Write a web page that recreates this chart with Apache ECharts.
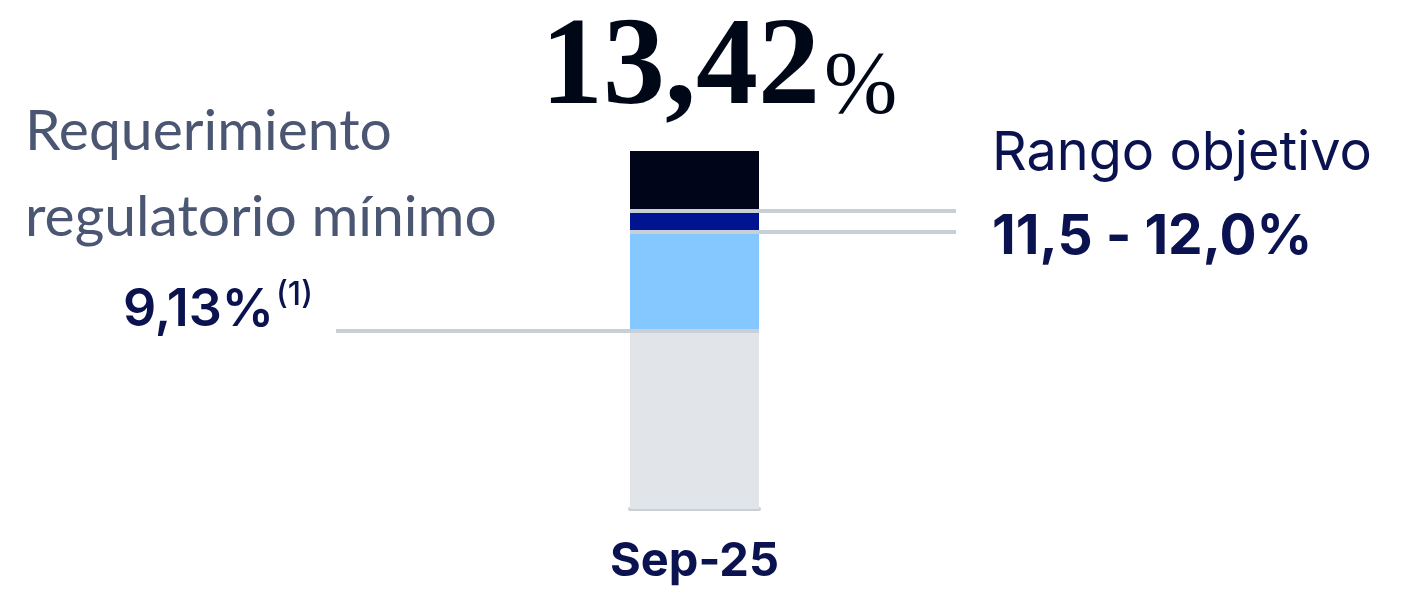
<!DOCTYPE html>
<html>
<head>
<meta charset="utf-8">
<script src="https://cdn.jsdelivr.net/npm/echarts@6/dist/echarts.min.js"></script>
<style>
  html, body { margin: 0; padding: 0; background: #fff; }
  #chart { width: 1424px; height: 613px; }
</style>
</head>
<body>
<div id="chart"></div>
<script>
// datos
const categories = ['Sep-25']
const minimoRegulatorio = [9.13]   // requerimiento regulatorio minimo
const rangoBajo = [11.5]           // rango objetivo, inferior
const rangoAlto = [12.0]           // rango objetivo, superior
const ratioCET1 = [13.42]          // ratio actual

const labelTotal = '13,42'
const labelMinimo = '9,13%'
const labelRango = '11,5 - 12,0%'

const navy = '#0b1250'
const guide = '#c8cfd7'

const diff = (a, b) => a.map((v, i) => +(v - b[i]).toFixed(4))

const chart = echarts.init(document.getElementById('chart'), null, { renderer: 'canvas' })

const option = {
  animation: false,
  backgroundColor: '#fff',
  grid: { left: 630, right: 665, top: 151, bottom: 104 },
  title: [
    {
      text: '{n|' + labelTotal + '}{p|%}',
      left: 541, top: 9, padding: 0,
      textStyle: {
        rich: {
          n: { fontFamily: 'Liberation Serif', fontWeight: 'bold', fontSize: 124, lineHeight: 124, color: '#000818' },
          p: { fontFamily: 'Liberation Serif', fontWeight: 'normal', fontSize: 88, lineHeight: 100, verticalAlign: 'bottom', color: '#000818', padding: [0, 0, 0, 4] }
        }
      }
    },
    {
      text: 'Requerimiento\nregulatorio mínimo',
      left: 25, top: 89, padding: 0,
      textStyle: { fontFamily: 'Lato', fontWeight: 'normal', fontSize: 57, lineHeight: 86, color: '#4a5672' }
    },
    {
      text: '{v|' + labelMinimo + '}{s|(1)}',
      left: 123, top: 279, padding: 0,
      textStyle: {
        rich: {
          v: { fontFamily: 'Inter', fontWeight: 600, fontSize: 52, lineHeight: 62, color: navy },
          s: { fontFamily: 'Inter', fontWeight: 500, fontSize: 32, lineHeight: 38, verticalAlign: 'top', color: navy, padding: [0, 0, 0, 2] }
        }
      }
    },
    {
      text: 'Rango objetivo',
      left: 992, top: 124, padding: 0,
      textStyle: { fontFamily: 'Inter', fontWeight: 'normal', fontSize: 54, lineHeight: 60, color: navy }
    },
    {
      text: labelRango,
      left: 992, top: 207, padding: 0,
      textStyle: { fontFamily: 'Inter', fontWeight: 'bold', fontSize: 55, lineHeight: 60, color: navy }
    }
  ],
  xAxis: {
    type: 'category',
    data: categories,
    axisLine: { show: true, lineStyle: { color: guide, width: 4 } },
    axisTick: { show: false },
    axisLabel: {
      margin: 27,
      fontFamily: 'Inter', fontWeight: 'bold', fontSize: 47, lineHeight: 52, color: navy
    }
  },
  yAxis: {
    type: 'value',
    min: 4.89,
    max: 13.42,
    show: false,
    splitLine: { show: false }
  },
  series: [
    {
      name: 'Minimo', type: 'bar', stack: 'cet1', barWidth: '100%',
      itemStyle: { color: '#e1e5ea' },
      data: minimoRegulatorio
    },
    {
      name: 'Hasta rango', type: 'bar', stack: 'cet1',
      itemStyle: { color: '#85c8ff' },
      data: diff(rangoBajo, minimoRegulatorio)
    },
    {
      name: 'Rango objetivo', type: 'bar', stack: 'cet1',
      itemStyle: { color: '#001391' },
      data: diff(rangoAlto, rangoBajo)
    },
    {
      name: 'CET1', type: 'bar', stack: 'cet1',
      itemStyle: { color: '#000519' },
      data: diff(ratioCET1, rangoAlto),
      markLine: {
        silent: true,
        symbol: ['none', 'none'],
        label: { show: false },
        lineStyle: { color: guide, width: 4, type: 'solid' },
        data: [
          [{ x: 336, yAxis: minimoRegulatorio[0] }, { x: 759, yAxis: minimoRegulatorio[0] }],
          [{ x: 630, yAxis: rangoBajo[0] }, { x: 956, yAxis: rangoBajo[0] }],
          [{ x: 630, yAxis: rangoAlto[0] }, { x: 956, yAxis: rangoAlto[0] }]
        ]
      }
    }
  ]
}

chart.setOption(option)
</script>
</body>
</html>
